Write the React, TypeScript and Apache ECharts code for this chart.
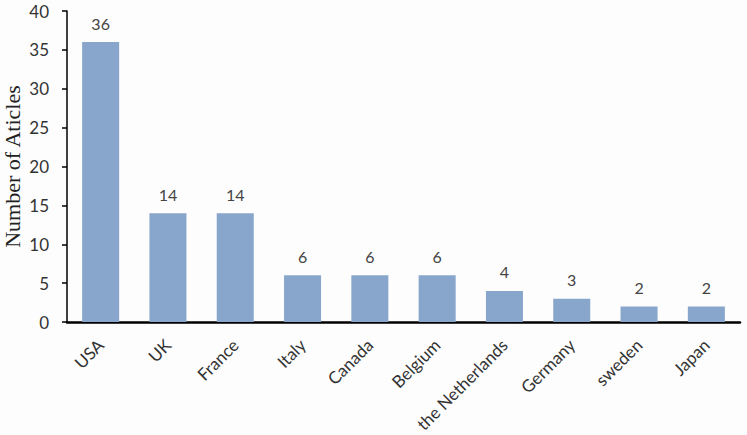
import React, { useEffect, useRef } from "react";
import * as echarts from "echarts";

const categories = ["USA", "UK", "France", "Italy", "Canada", "Belgium", "the Netherlands", "Germany", "sweden", "Japan"];
const values = [36, 14, 14, 6, 6, 6, 4, 3, 2, 2];
const yTicks = { min: 0, max: 40, interval: 5 };

export default function App() {
  const ref = useRef<HTMLDivElement>(null);
  useEffect(() => {
    const chart = echarts.init(ref.current!, null, { renderer: "svg" });
    chart.setOption({
      animation: false,
      backgroundColor: "#fdfdfd",
      grid: { left: 67, right: 7, top: 11, bottom: 113, containLabel: false, outerBoundsMode: "none" },
      xAxis: {
        type: "category",
        data: categories,
        axisLine: { lineStyle: { color: "#000", width: 2.5 } },
        axisTick: { show: false },
        axisLabel: { rotate: 45, color: "#333", fontFamily: "Lato", fontSize: 17, margin: 20, interval: 0 },
      },
      yAxis: {
        type: "value",
        min: yTicks.min,
        max: yTicks.max,
        interval: yTicks.interval,
        name: "Number of Aticles",
        nameLocation: "middle",
        nameGap: 44,
        nameMoveOverlap: false,
        nameTextStyle: { fontFamily: "Liberation Serif", fontSize: 22, color: "#222" },
        axisLine: { show: true, lineStyle: { color: "#000", width: 1.5 } },
        axisTick: { show: true, length: 5, lineStyle: { color: "#000", width: 1.5 } },
        axisLabel: { color: "#333", fontFamily: "Lato", fontSize: 17, margin: 18 },
        splitLine: { show: false },
      },
      series: [
        {
          type: "bar",
          data: values,
          barWidth: "55%",
          itemStyle: { color: "#88a6cb" },
          label: { show: true, position: "top", color: "#444", fontFamily: "Lato", fontSize: 16, distance: 11 },
        },
      ],
    });
    return () => chart.dispose();
  }, []);
  return <div ref={ref} style={{ width: 747, height: 435, position: "absolute", left: 0, top: 0 }} />;
}
